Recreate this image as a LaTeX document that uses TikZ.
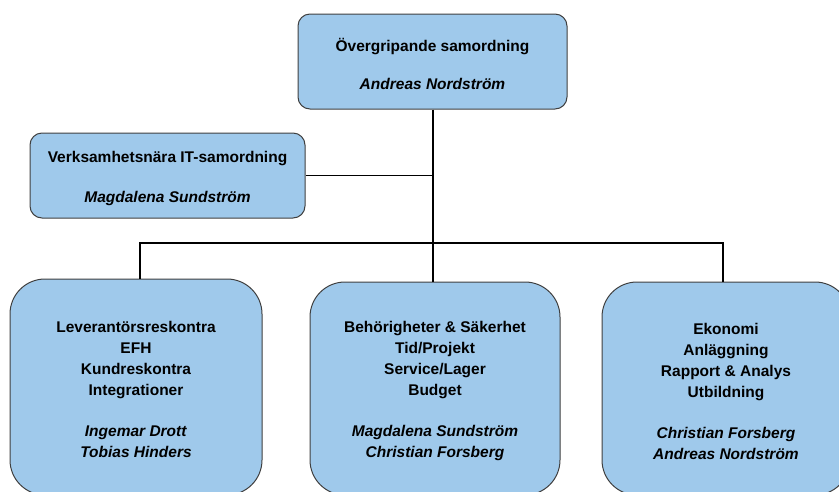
\documentclass[tikz,border=0pt]{standalone}
\usepackage{fontspec}
\setmainfont{Liberation Sans}
\definecolor{boxfill}{RGB}{159,201,235}
\definecolor{boxline}{RGB}{64,64,64}
\begin{document}
\begin{tikzpicture}[x=1pt,y=-1pt]
\tikzset{
  box/.style={draw=boxline, fill=boxfill, line width=1pt, rounded corners=12pt,
    inner sep=0pt},
  boxtext/.style={align=center, inner sep=0pt, yshift=-2.5pt,
    font=\fontsize{15.5}{21}\selectfont\bfseries},
  bigbox/.style={box, rounded corners=35pt},
  link/.style={draw=black, line width=1.9pt}
}
\clip (0,0) rectangle (839,491);
\node[box, minimum width=269pt, minimum height=95pt] (top) at (432.5,61.5) {};
\node[boxtext] (topt) at (top.center)
  {Övergripande samordning\\[17pt]\textit{Andreas Nordström}};
\node[box, minimum width=275pt, minimum height=85pt] (itb) at (167.5,175.5) {};
\node[boxtext] (itbt) at (itb.center)
  {Verksamhetsnära IT-samordning\\[19pt]\textit{Magdalena Sundström}};
\node[bigbox, minimum width=252pt, minimum height=216pt] (bl) at (136,387) {};
\node[boxtext] (blt) at (bl.center)
  {Leverantörsreskontra\\EFH\\Kundreskontra\\Integrationer\\[20pt]\textit{Ingemar Drott}\\\textit{Tobias Hinders}};
\node[bigbox, minimum width=250pt, minimum height=213pt] (bm) at (435,388.5) {};
\node[boxtext] (bmt) at (bm.center)
  {Behörigheter \& Säkerhet\\Tid/Projekt\\Service/Lager\\Budget\\[20pt]\textit{Magdalena Sundström}\\\textit{Christian Forsberg}};
\node[bigbox, minimum width=248pt, minimum height=213pt] (br) at (726,388.5) {};
\node[boxtext] (brt) at (br.center)
  {Ekonomi\\Anläggning\\Rapport \& Analys\\Utbildning\\[20pt]\textit{Christian Forsberg}\\\textit{Andreas Nordström}};
\coordinate (busL) at (140,243);
\coordinate (busM) at (433,243);
\coordinate (busR) at (723,243);
\draw[link] (top.south -| busM) -- (busM |- bm.north);
\draw[link] (itb.east) -- (itb.east -| busM);
\draw[link] (busL |- bl.north) -- (busL) -- (busR) -- (busR |- br.north);
\end{tikzpicture}
\end{document}
